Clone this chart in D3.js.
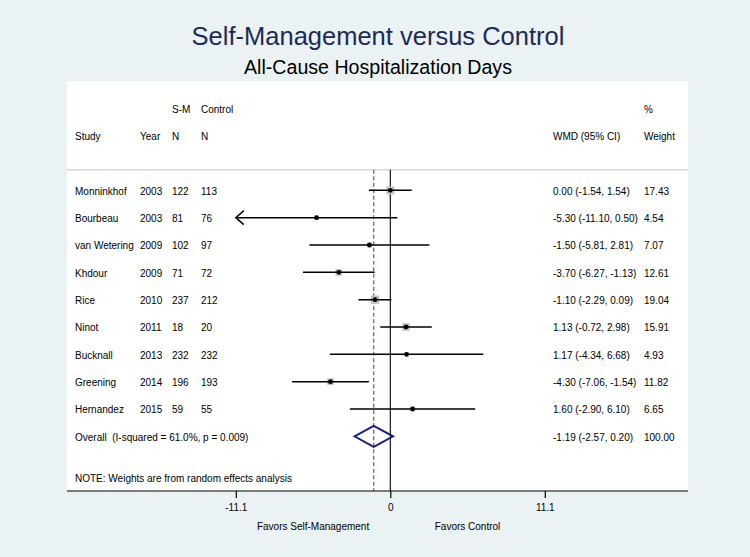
<!DOCTYPE html>
<html>
<head>
<meta charset="utf-8">
<script src="https://cdn.jsdelivr.net/npm/d3@7"></script>
<style>
  html, body { margin: 0; padding: 0; background: #eaf2f3; }
  svg { display: block; font-family: "Liberation Sans", Arial, Helvetica, sans-serif; }
  text { white-space: pre; }
</style>
</head>
<body>
<svg id="chart" width="750" height="557"></svg>
<script>
// ---- Data ----
const studies = ["Monninkhof", "Bourbeau", "van Wetering", "Khdour", "Rice", "Ninot", "Bucknall", "Greening", "Hernandez"];
const years = [2003, 2003, 2009, 2009, 2010, 2011, 2013, 2014, 2015];
const nSM = [122, 81, 102, 71, 237, 18, 232, 196, 59];
const nControl = [113, 76, 97, 72, 212, 20, 232, 193, 55];
const wmd = [0.00, -5.30, -1.50, -3.70, -1.10, 1.13, 1.17, -4.30, 1.60];
const ciLow = [-1.54, -11.10, -5.81, -6.27, -2.29, -0.72, -4.34, -7.06, -2.90];
const ciHigh = [1.54, 0.50, 2.81, -1.13, 0.09, 2.98, 6.68, -1.54, 6.10];
const weights = [17.43, 4.54, 7.07, 12.61, 19.04, 15.91, 4.93, 11.82, 6.65];
const overall = { est: -1.19, lo: -2.57, hi: 0.20, weight: 100.00, label: "Overall  (I-squared = 61.0%, p = 0.009)" };
const tickValues = [-11.1, 0, 11.1];
const tickLabels = ["-11.1", "0", "11.1"];
const titleText = "Self-Management versus Control";
const subtitleText = "All-Cause Hospitalization Days";
const noteText = "NOTE: Weights are from random effects analysis";
const favorLabels = ["Favors Self-Management", "Favors Control"];

// ---- Layout ----
const svg = d3.select("#chart");
const W = 750, H = 557;
const box = { left: 67, right: 688, top: 81, bottom: 491 };

const x = d3.scaleLinear().domain([-11.1, 11.1]).range([235.8, 544.8]);
const y = d3.scaleLinear().domain([-4, 11]).range([box.top, box.bottom]);

const col = { study: 75, year: 140, nsm: 172, nctl: 201, wmd: 553, weight: 644 };
const fs = 10;
const baseOff = 4.3;

svg.append("rect").attr("width", W).attr("height", H).attr("fill", "#eaf2f3");
svg.append("rect").attr("x", box.left).attr("y", box.top)
  .attr("width", box.right - box.left).attr("height", box.bottom - box.top).attr("fill", "#ffffff");

// Titles
svg.append("text").attr("x", 378).attr("y", 45).attr("text-anchor", "middle")
  .attr("font-size", 25.5).attr("fill", "#1e2a58").text(titleText);
svg.append("text").attr("x", 378).attr("y", 74).attr("text-anchor", "middle")
  .attr("font-size", 19.6).attr("fill", "#000").text(subtitleText);

// Header
const hdr = svg.append("g").attr("font-size", fs).attr("fill", "#000");
function t(g, xx, yy, s, anchor) {
  return g.append("text").attr("x", xx).attr("y", yy).attr("text-anchor", anchor || "start").text(s);
}
t(hdr, col.nsm, y(-3) + baseOff, "S-M");
t(hdr, col.nctl, y(-3) + baseOff, "Control");
t(hdr, col.weight, y(-3) + baseOff, "%");
t(hdr, col.study, y(-2) + baseOff, "Study");
t(hdr, col.year, y(-2) + baseOff, "Year");
t(hdr, col.nsm, y(-2) + baseOff, "N");
t(hdr, col.nctl, y(-2) + baseOff, "N");
t(hdr, col.wmd, y(-2) + baseOff, "WMD (95% CI)");
t(hdr, col.weight, y(-2) + baseOff, "Weight");

// Separator line
svg.append("line").attr("x1", box.left).attr("x2", box.right)
  .attr("y1", y(-0.75)).attr("y2", y(-0.75)).attr("stroke", "#d0d0d0").attr("stroke-width", 1.2);

// Zero line
svg.append("line").attr("x1", x(0)).attr("x2", x(0))
  .attr("y1", y(-0.75)).attr("y2", box.bottom).attr("stroke", "#000").attr("stroke-width", 1.1);

// Overall dashed line
svg.append("line").attr("x1", x(overall.est)).attr("x2", x(overall.est))
  .attr("y1", y(-0.75)).attr("y2", box.bottom).attr("stroke", "#b03c4a")
  .attr("stroke-width", 1.2).attr("stroke-dasharray", "4,2.5");

// Rows
const fmt = v => v.toFixed(2);
const rows = svg.append("g");
studies.forEach((s, i) => {
  const yy = y(i);
  const g = rows.append("g").attr("font-size", fs).attr("fill", "#000");
  t(g, col.study, yy + baseOff, s);
  t(g, col.year, yy + baseOff, years[i]);
  t(g, col.nsm, yy + baseOff, nSM[i]);
  t(g, col.nctl, yy + baseOff, nControl[i]);
  t(g, col.wmd, yy + baseOff, `${fmt(wmd[i])} (${fmt(ciLow[i])}, ${fmt(ciHigh[i])})`);
  t(g, col.weight, yy + baseOff, fmt(weights[i]));

  // weight box
  const side = 1.9 * Math.sqrt(weights[i]);
  rows.append("rect").attr("x", x(wmd[i]) - side / 2).attr("y", yy - side / 2)
    .attr("width", side).attr("height", side).attr("fill", "#c0c0c0");

  // CI line (clipped to axis range, arrow if clipped)
  const lo = Math.max(ciLow[i], x.domain()[0]);
  const hi = Math.min(ciHigh[i], x.domain()[1]);
  rows.append("line").attr("x1", x(lo)).attr("x2", x(hi)).attr("y1", yy).attr("y2", yy)
    .attr("stroke", "#000").attr("stroke-width", 1.5);
  if (ciLow[i] <= x.domain()[0]) {
    rows.append("path")
      .attr("d", `M${x(lo) + 8},${yy - 7} L${x(lo)},${yy} L${x(lo) + 8},${yy + 7}`)
      .attr("fill", "none").attr("stroke", "#000").attr("stroke-width", 1.5);
  }
  rows.append("circle").attr("cx", x(wmd[i])).attr("cy", yy).attr("r", 2.4).attr("fill", "#000");
});

// Overall row
const yo = y(9);
const go = svg.append("g").attr("font-size", fs).attr("fill", "#000");
t(go, col.study, yo + baseOff, overall.label);
t(go, col.wmd, yo + baseOff, `${fmt(overall.est)} (${fmt(overall.lo)}, ${fmt(overall.hi)})`);
t(go, col.weight, yo + baseOff, fmt(overall.weight));
svg.append("path")
  .attr("d", `M${x(overall.lo)},${yo} L${x(overall.est)},${yo - 10.5} L${x(overall.hi)},${yo} L${x(overall.est)},${yo + 10.5} Z`)
  .attr("fill", "none").attr("stroke", "#1a237a").attr("stroke-width", 2);

// Note
t(svg.append("g").attr("font-size", fs).attr("fill", "#000"), col.study, y(10.5) + baseOff, noteText);

// Axis
svg.append("line").attr("x1", box.left).attr("x2", box.right)
  .attr("y1", box.bottom).attr("y2", box.bottom).attr("stroke", "#000").attr("stroke-width", 1.2);
const axis = d3.axisBottom(x).tickValues(tickValues).tickFormat((d, i) => tickLabels[i]).tickSize(7).tickPadding(6);
const ag = svg.append("g").attr("transform", `translate(0,${box.bottom})`).call(axis);
ag.select(".domain").remove();
ag.selectAll(".tick line").attr("stroke", "#000").attr("stroke-width", 1.2);
ag.selectAll(".tick text").attr("font-size", fs).attr("fill", "#000")
  .attr("font-family", "'Liberation Sans', Arial, sans-serif");

// Favors labels
svg.append("text").attr("x", x(-5.55)).attr("y", 530).attr("text-anchor", "middle")
  .attr("font-size", fs).attr("fill", "#000").text(favorLabels[0]);
svg.append("text").attr("x", x(5.55)).attr("y", 530).attr("text-anchor", "middle")
  .attr("font-size", fs).attr("fill", "#000").text(favorLabels[1]);
</script>
</body>
</html>
